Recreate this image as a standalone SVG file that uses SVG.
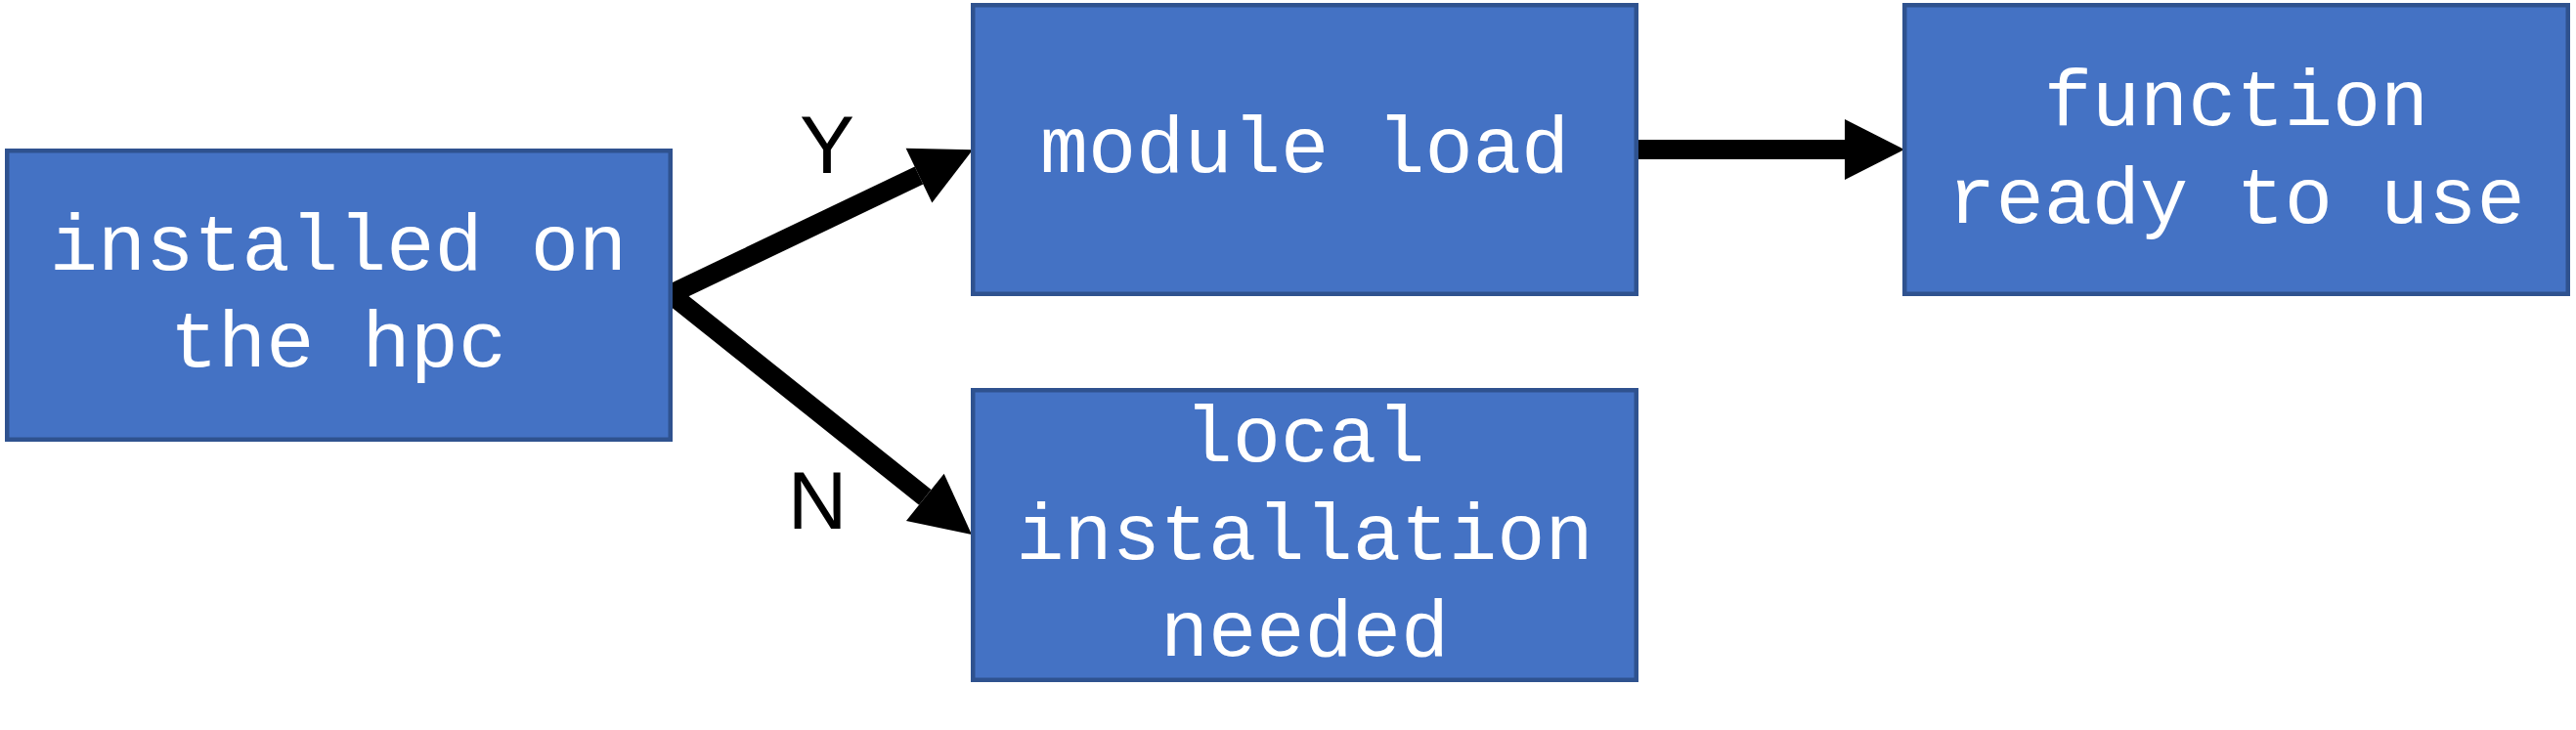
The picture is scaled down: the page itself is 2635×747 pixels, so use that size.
<svg xmlns="http://www.w3.org/2000/svg" width="2635" height="747" viewBox="0 0 2635 747">
<style>
.box{fill:#4472C4;stroke:#2F528F;stroke-width:4.5}
.t{font-family:"Liberation Mono","Courier New",monospace;font-size:82px;fill:#FFFFFF;text-anchor:middle}
.lbl{font-family:"Liberation Sans",Arial,sans-serif;font-size:84px;fill:#000000;text-anchor:middle}
.conn{stroke:#000000;stroke-width:20;fill:none;stroke-linecap:butt}
</style>
<defs>
<marker id="ah" markerUnits="userSpaceOnUse" markerWidth="62" markerHeight="62" refX="0" refY="31" orient="auto" overflow="visible">
<path d="M0,0 L61,31 L0,62 Z" fill="#000000"/>
</marker>
</defs>
<rect width="2635" height="747" fill="#FFFFFF"/>
<g id="connectors">
<line class="conn" x1="686" y1="301" x2="940" y2="179.6" marker-end="url(#ah)"/>
<line class="conn" x1="686" y1="301" x2="946.3" y2="508.9" marker-end="url(#ah)"/>
<line class="conn" x1="1674" y1="153" x2="1887" y2="153" marker-end="url(#ah)"/>
<text class="lbl" x="846" y="177">Y</text>
<text class="lbl" x="836" y="541">N</text>
</g>
<g id="node-installed">
<rect class="box" x="7.25" y="154.25" width="678.5" height="295.5"/>
<text class="t" x="346" y="276">installed on</text>
<text class="t" x="346" y="375">the hpc</text>
</g>
<g id="node-module">
<rect class="box" x="995.25" y="5.25" width="678.5" height="295.5"/>
<text class="t" x="1334.5" y="176">module load</text>
</g>
<g id="node-function">
<rect class="box" x="1948.25" y="5.25" width="678.5" height="295.5"/>
<text class="t" x="2287.5" y="128">function</text>
<text class="t" x="2287.5" y="228">ready to use</text>
</g>
<g id="node-local">
<rect class="box" x="995.25" y="399.25" width="678.5" height="296.5"/>
<text class="t" x="1334.5" y="472">local</text>
<text class="t" x="1334.5" y="572">installation</text>
<text class="t" x="1334.5" y="671">needed</text>
</g>
</svg>
